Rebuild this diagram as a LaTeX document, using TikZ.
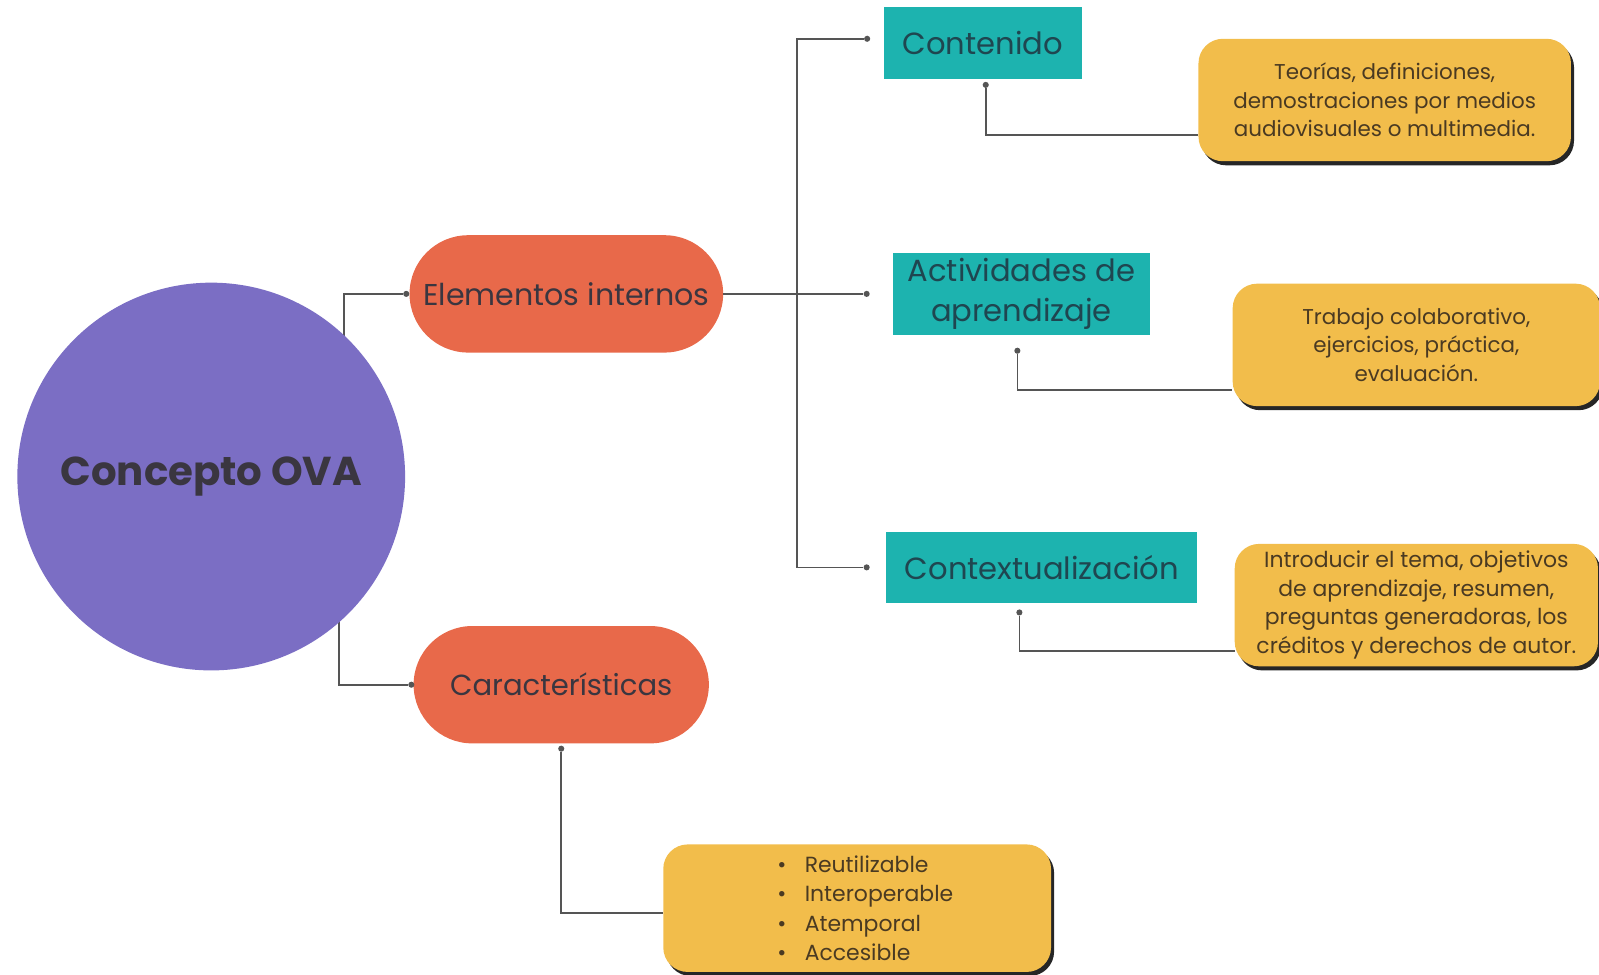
\documentclass[tikz,border=0pt]{standalone}
\usepackage{fontspec}
\setmainfont{Poppins}
\usepackage{tikz}
\usetikzlibrary{shapes, positioning, shadows, backgrounds}
\definecolor{ovamorado}{HTML}{7B6EC4}
\definecolor{ovanaranja}{HTML}{E8694A}
\definecolor{ovaturquesa}{HTML}{1DB3AF}
\definecolor{ovaamarillo}{HTML}{F2BD4B}
\definecolor{ovalinea}{HTML}{555555}
\definecolor{ovatexto}{HTML}{3A3640}
\definecolor{ovatextoazul}{HTML}{1F4650}
\definecolor{ovatextocafe}{HTML}{4A3A22}
\tikzstyle{concepto} = [circle, fill=ovamorado, minimum size=380pt, inner sep=0pt, text=ovatexto, font=\fontsize{39.5}{48}\selectfont\bfseries]
\tikzstyle{rama} = [rounded rectangle, fill=ovanaranja, minimum height=115pt, text=ovatexto, font=\fontsize{29.5}{34}\selectfont]
\tikzstyle{elemento} = [rectangle, fill=ovaturquesa, inner sep=0pt, text=ovatextoazul, align=center, font=\fontsize{30}{39}\selectfont]
\tikzstyle{detalle} = [rectangle, rounded corners=24pt, fill=ovaamarillo, minimum height=120pt, inner sep=0pt, text=ovatextocafe, align=center, font=\fontsize{21.5}{28}\selectfont, drop shadow={shadow xshift=3pt, shadow yshift=-4pt, fill=black!85, opacity=1}]
\tikzstyle{enlace} = [draw=ovalinea, line width=1.6pt]
\tikzstyle{punto} = [circle, fill=ovalinea, inner sep=0pt, minimum size=6pt]

\begin{document}
\begin{tikzpicture}[x=1pt, y=-1pt]
	% concepto central y ramas
	\node [concepto] (ova) at (207,467) {Concepto OVA};
	\node [rama, minimum width=314pt] (internos) at (555,288) {Elementos internos};
	\node [rama, minimum width=296pt, font=\fontsize{28.5}{34}\selectfont] (caract) at (550,671) {Características};

	% elementos internos
	\node [elemento, minimum width=194pt, minimum height=70pt] (contenido) at (963,42) {Contenido};
	\node [elemento, minimum width=251pt, minimum height=81pt] (actividades) at (1001,288) {Actividades de\\aprendizaje};
	\node [elemento, minimum width=305pt, minimum height=70pt] (contexto) at (1021,556) {Contextualización};

	% descripciones
	\node [detalle, minimum width=365pt, font=\fontsize{21}{28}\selectfont] (teorias) at (1357,98) {Teorías, definiciones,\\demostraciones por medios\\audiovisuales o multimedia.};
	\node [detalle, minimum width=360pt, font=\fontsize{21}{28}\selectfont] (trabajo) at (1388,338) {Trabajo colaborativo,\\ejercicios, práctica,\\evaluación.};
	\node [detalle, minimum width=356pt] (introducir) at (1388,593) {Introducir el tema, objetivos\\de aprendizaje, resumen,\\preguntas generadoras, los\\créditos y derechos de autor.};
	\node [detalle, minimum width=380pt, minimum height=125pt, align=left, font=\fontsize{21.5}{29}\selectfont] (lista) at (840,890) {\hspace*{16pt}\textbullet\hspace{18pt}Reutilizable\\\hspace*{16pt}\textbullet\hspace{18pt}Interoperable\\\hspace*{16pt}\textbullet\hspace{18pt}Atemporal\\\hspace*{16pt}\textbullet\hspace{18pt}Accesible};

	% puntos de llegada
	\node [punto] (pinternos) at ([xshift=-3pt]internos.west) {};
	\node [punto] (pcaract) at ([xshift=-2pt]caract.west) {};
	\node [punto] (pcontenido) at ([xshift=-16pt, yshift=4pt]contenido.west) {};
	\node [punto] (pactividades) at ([xshift=-26pt]actividades.west) {};
	\node [punto] (pcontexto) at ([xshift=-19pt]contexto.west) {};
	\node [punto] (dcontenido) at ([xshift=3pt, yshift=-6pt]contenido.south) {};
	\node [punto] (dactividades) at ([xshift=-4pt, yshift=-15pt]actividades.south) {};
	\node [punto] (dcontexto) at ([xshift=-22pt, yshift=-9pt]contexto.south) {};
	\node [punto] (dcaract) at ([yshift=-5pt]caract.south) {};
	\coordinate (tronco) at (781,300);

	% conectores
	\begin{scope}[on background layer]
		\draw [enlace] ([xshift=130pt]ova.center) |- (pinternos);
		\draw [enlace] ([xshift=125pt]ova.center) |- (pcaract);
	\end{scope}
	\draw [enlace] (pcontenido) -| (tronco) |- (pcontexto);
	\draw [enlace] (internos.east) -- (pactividades);
	\draw [enlace] (dcontenido) |- ([yshift=-34pt]teorias.west);
	\draw [enlace] (dactividades) |- ([yshift=-44pt]trabajo.west);
	\draw [enlace] (dcontexto) |- ([yshift=-45pt]introducir.west);
	\draw [enlace] (dcaract) |- ([yshift=-5pt]lista.west);

	\pgfresetboundingbox
	\useasboundingbox (0,0) rectangle (1567,955);
\end{tikzpicture}
\end{document}
